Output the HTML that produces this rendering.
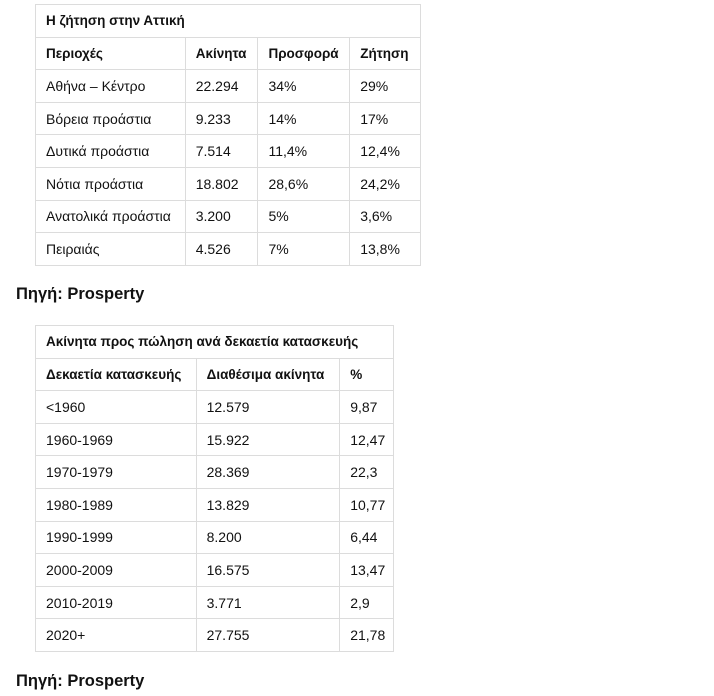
<!DOCTYPE html>
<html><head><meta charset="utf-8"><style>
body{margin:0;background:#fff;font-family:"Liberation Sans","DejaVu Sans",sans-serif;color:#111;width:714px;height:696px;position:relative;overflow:hidden}
table{position:absolute;border-collapse:collapse;font-size:14px}
td{border:1px solid #dcdcdc;height:32.6px;padding:0 0 0 10px;box-sizing:border-box;white-space:nowrap}
.b td{font-weight:bold;font-size:13.5px}
.src{position:absolute;left:16px;font-weight:bold;font-size:16.5px}
</style></head><body>
<table style="left:35px;top:4px;width:386px">
<colgroup><col style="width:150px"><col style="width:73px"><col style="width:92px"><col style="width:71px"></colgroup>
<tr class="b"><td colspan="4">Η ζήτηση στην Αττική</td></tr>
<tr class="b"><td>Περιοχές</td><td>Ακίνητα</td><td>Προσφορά</td><td>Ζήτηση</td></tr>
<tr><td>Αθήνα – Κέντρο</td><td>22.294</td><td>34%</td><td>29%</td></tr>
<tr><td>Βόρεια προάστια</td><td>9.233</td><td>14%</td><td>17%</td></tr>
<tr><td>Δυτικά προάστια</td><td>7.514</td><td>11,4%</td><td>12,4%</td></tr>
<tr><td>Νότια προάστια</td><td>18.802</td><td>28,6%</td><td>24,2%</td></tr>
<tr><td>Ανατολικά προάστια</td><td>3.200</td><td>5%</td><td>3,6%</td></tr>
<tr><td>Πειραιάς</td><td>4.526</td><td>7%</td><td>13,8%</td></tr>
</table>
<div class="src" style="top:285px">Πηγή: Prosperty</div>
<table style="left:35px;top:325px;width:359px">
<colgroup><col style="width:161px"><col style="width:144px"><col style="width:54px"></colgroup>
<tr class="b"><td colspan="3">Ακίνητα προς πώληση ανά δεκαετία κατασκευής</td></tr>
<tr class="b"><td>Δεκαετία κατασκευής</td><td>Διαθέσιμα ακίνητα</td><td>%</td></tr>
<tr><td>&lt;1960</td><td>12.579</td><td>9,87</td></tr>
<tr><td>1960-1969</td><td>15.922</td><td>12,47</td></tr>
<tr><td>1970-1979</td><td>28.369</td><td>22,3</td></tr>
<tr><td>1980-1989</td><td>13.829</td><td>10,77</td></tr>
<tr><td>1990-1999</td><td>8.200</td><td>6,44</td></tr>
<tr><td>2000-2009</td><td>16.575</td><td>13,47</td></tr>
<tr><td>2010-2019</td><td>3.771</td><td>2,9</td></tr>
<tr><td>2020+</td><td>27.755</td><td>21,78</td></tr>
</table>
<div class="src" style="top:672px">Πηγή: Prosperty</div>
</body></html>
